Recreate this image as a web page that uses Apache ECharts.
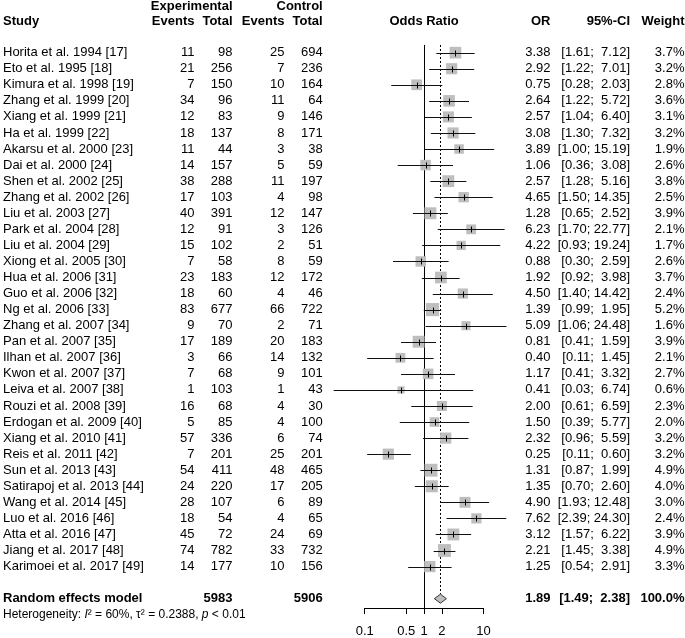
<!DOCTYPE html>
<html><head><meta charset="utf-8">
<script src="https://cdn.jsdelivr.net/npm/echarts@6/dist/echarts.min.js"></script>
<style>html,body{margin:0;padding:0;background:#fff}#c{width:685px;height:638px}</style>
</head><body><div id="c"></div><script>
const studies = ["Horita et al. 1994 [17]","Eto et al. 1995 [18]","Kimura et al. 1998 [19]","Zhang et al. 1999 [20]","Xiang et al. 1999 [21]","Ha et al. 1999 [22]","Akarsu et al. 2000 [23]","Dai et al. 2000 [24]","Shen et al. 2002 [25]","Zhang et al. 2002 [26]","Liu et al. 2003 [27]","Park et al. 2004 [28]","Liu et al. 2004 [29]","Xiong et al. 2005 [30]","Hua et al. 2006 [31]","Guo et al. 2006 [32]","Ng et al. 2006 [33]","Zhang et al. 2007 [34]","Pan et al. 2007 [35]","Ilhan et al. 2007 [36]","Kwon et al. 2007 [37]","Leiva et al. 2007 [38]","Rouzi et al. 2008 [39]","Erdogan et al. 2009 [40]","Xiang et al. 2010 [41]","Reis et al. 2011 [42]","Sun et al. 2013 [43]","Satirapoj et al. 2013 [44]","Wang et al. 2014 [45]","Luo et al. 2016 [46]","Atta et al. 2016 [47]","Jiang et al. 2017 [48]","Karimoei et al. 2017 [49]"];
const expEvents = [11,21,7,34,12,18,11,14,38,17,40,12,15,7,23,18,83,9,17,3,7,1,16,5,57,7,54,24,28,18,45,74,14];
const expTotal = [98,256,150,96,83,137,44,157,288,103,391,91,102,58,183,60,677,70,189,66,68,103,68,85,336,201,411,220,107,54,72,782,177];
const ctrlEvents = [25,7,10,11,9,8,3,5,11,4,12,3,2,8,12,4,66,2,20,14,9,1,4,4,6,25,48,17,6,4,24,33,10];
const ctrlTotal = [694,236,164,64,146,171,38,59,197,98,147,126,51,59,172,46,722,71,183,132,101,43,30,100,74,201,465,205,89,65,69,732,156];
const oddsRatio = [3.38,2.92,0.75,2.64,2.57,3.08,3.89,1.06,2.57,4.65,1.28,6.23,4.22,0.88,1.92,4.50,1.39,5.09,0.81,0.40,1.17,0.41,2.00,1.50,2.32,0.25,1.31,1.35,4.90,7.62,3.12,2.21,1.25];
const ciLower = [1.61,1.22,0.28,1.22,1.04,1.30,1.00,0.36,1.28,1.50,0.65,1.70,0.93,0.30,0.92,1.40,0.99,1.06,0.41,0.11,0.41,0.03,0.61,0.39,0.96,0.11,0.87,0.70,1.93,2.39,1.57,1.45,0.54];
const ciUpper = [7.12,7.01,2.03,5.72,6.40,7.32,15.19,3.08,5.16,14.35,2.52,22.77,19.24,2.59,3.98,14.42,1.95,24.48,1.59,1.45,3.32,6.74,6.59,5.77,5.59,0.60,1.99,2.60,12.48,24.30,6.22,3.38,2.91];
const weights = [3.7,3.2,2.8,3.6,3.1,3.2,1.9,2.6,3.8,2.5,3.9,2.1,1.7,2.6,3.7,2.4,5.2,1.6,3.9,2.1,2.7,0.6,2.3,2.0,3.2,3.2,4.9,4.0,3.0,2.4,3.9,4.9,3.3];
const pooledOR = 1.89, pooledLower = 1.49, pooledUpper = 2.38, pooledWeight = 100.0;
const pooledExpTotal = 5983, pooledCtrlTotal = 5906;
const heterogeneity = {I2: "60%", tau2: "0.2388", p: "< 0.01"};
const xTicks = [0.1, 0.5, 1, 2, 10];
const xTickLabels = ["0.1", "0.5", "1", "2", "10"];

const FONT = "'Liberation Sans', Arial, sans-serif";
const ROW_RE = 34, ROW_HET = 35;
const COL = {study:3, ee:194.5, et:232.5, ce:284.5, ct:322.7, or:550.5, ci:630, w:684.5};

function fmtCI(lo, up){
  let u = up.toFixed(2); if (u.length < 5) u = ' ' + u;
  return '[' + lo.toFixed(2) + '; ' + u + ']';
}
function txt(x, y, text, align, opt){
  opt = opt || {};
  return {type:'text', style:{text:text, x:x, y:y, align:align, verticalAlign:'middle',
    fontSize: opt.size || 13, fontFamily: FONT, fontWeight: opt.bold ? 'bold' : 'normal',
    fill:'#000', rich: opt.rich}};
}

const forestData = oddsRatio.map((v,i)=>[v, i, ciLower[i], ciUpper[i], weights[i]]);
const tableData = studies.map((s,i)=>[1, i, i]);

const chart = echarts.init(document.getElementById('c'), null, {renderer:'canvas'});
chart.setOption({
  animation:false,
  backgroundColor:'#fff',
  grid:{left:364.7, right:685-483.4, top:0, height:608},
  xAxis:{type:'log', logBase:10, min:0.1, max:10, position:'bottom',
    axisLine:{show:true, onZero:false, lineStyle:{color:'#000', width:1}},
    axisTick:{show:true, length:6, lineStyle:{color:'#000', width:1}, customValues: xTicks},
    axisLabel:{show:true, fontSize:13, fontFamily:FONT, color:'#000', margin:17, customValues: xTicks,
      formatter: function(v){ let k = xTicks.findIndex(t=>Math.abs(t-v)<1e-6); if(k<0) k = xTicks.findIndex(t=>Math.abs(t-Math.pow(10,v))<1e-6); return k>=0 ? xTickLabels[k] : String(v);} },
    splitLine:{show:false}},
  yAxis:{type:'value', inverse:true, min:-3.28, max:34.58, show:false},
  series:[
    { type:'custom', silent:true, z:1,
      data:[[1, -0.48, 34.58, 0],[pooledOR, -0.48, ROW_RE - 0.28, 1]],
      renderItem:function(params, api){
        const a = api.coord([api.value(0), api.value(1)]);
        const b = api.coord([api.value(0), api.value(2)]);
        const dotted = api.value(3) === 1;
        const x = Math.round(a[0]) + 0.5;
        return {type:'line', shape:{x1:x, y1:a[1], x2:x, y2:b[1]},
          style:{stroke:'#000', lineWidth:1, lineDash: dotted ? [2,2] : null}};
      }},
    { type:'custom', silent:true, z:2, data:forestData, encode:{x:[0,2,3], y:1},
      renderItem:function(params, api){
        const c = api.coord([api.value(0), api.value(1)]);
        const l = api.coord([api.value(2), api.value(1)]);
        const u = api.coord([api.value(3), api.value(1)]);
        const side = 4 + 4*Math.sqrt(api.value(4));
        const y = Math.round(c[1]) + 0.5;
        return {type:'group', children:[
          {type:'rect', shape:{x:c[0]-side/2, y:c[1]-side/2, width:side, height:side}, style:{fill:'#BEBEBE'}},
          {type:'line', shape:{x1:l[0], y1:y, x2:u[0], y2:y}, style:{stroke:'#111', lineWidth:1}},
          {type:'line', shape:{x1:Math.round(c[0])+0.5, y1:y-3, x2:Math.round(c[0])+0.5, y2:y+3}, style:{stroke:'#000', lineWidth:1}}
        ]};
      }},
    { type:'custom', silent:true, z:3, data:[[pooledOR, ROW_RE, pooledLower, pooledUpper]], encode:{x:[0,2,3], y:1},
      renderItem:function(params, api){
        const c = api.coord([api.value(0), api.value(1)]);
        const l = api.coord([api.value(2), api.value(1)]);
        const u = api.coord([api.value(3), api.value(1)]);
        const h = 4.5;
        return {type:'polygon', shape:{points:[[l[0],c[1]],[c[0],c[1]-h],[u[0],c[1]],[c[0],c[1]+h]]},
          style:{fill:'#BEBEBE', stroke:'#333', lineWidth:1}};
      }},
    { type:'custom', silent:true, z:4, data:tableData, encode:{x:0, y:1},
      renderItem:function(params, api){
        const i = api.value(2);
        const y = api.coord([1, api.value(1)])[1];
        return {type:'group', children:[
          txt(COL.study, y, studies[i], 'left'),
          txt(COL.ee, y, String(expEvents[i]), 'right'),
          txt(COL.et, y, String(expTotal[i]), 'right'),
          txt(COL.ce, y, String(ctrlEvents[i]), 'right'),
          txt(COL.ct, y, String(ctrlTotal[i]), 'right'),
          txt(COL.or, y, oddsRatio[i].toFixed(2), 'right'),
          txt(COL.ci, y, fmtCI(ciLower[i], ciUpper[i]), 'right'),
          txt(COL.w, y, weights[i].toFixed(1) + '%', 'right')
        ]};
      }},
    { type:'custom', silent:true, z:4, data:[[1, -2.9, 0],[1, -1.92, 1],[1, ROW_RE, 2],[1, ROW_HET, 3]], encode:{x:0, y:1},
      renderItem:function(params, api){
        const k = api.value(2);
        const y = api.coord([1, api.value(1)])[1];
        const B = {bold:true};
        let ch = [];
        if (k === 0) {
          ch = [txt(COL.et, y, 'Experimental', 'right', B), txt(COL.ct, y, 'Control', 'right', B)];
        } else if (k === 1) {
          const xc = api.coord([1, 0])[0];
          ch = [txt(COL.study, y, 'Study', 'left', B), txt(COL.ee, y, 'Events', 'right', B), txt(COL.et, y, 'Total', 'right', B),
            txt(COL.ce, y, 'Events', 'right', B), txt(COL.ct, y, 'Total', 'right', B), txt(xc, y, 'Odds Ratio', 'center', B),
            txt(COL.or, y, 'OR', 'right', B), txt(COL.ci, y, '95%-CI', 'right', B), txt(COL.w, y, 'Weight', 'right', B)];
        } else if (k === 2) {
          ch = [txt(COL.study, y, 'Random effects model', 'left', B), txt(COL.et, y, String(pooledExpTotal), 'right', B),
            txt(COL.ct, y, String(pooledCtrlTotal), 'right', B), txt(COL.or, y, pooledOR.toFixed(2), 'right', B),
            txt(COL.ci, y, fmtCI(pooledLower, pooledUpper), 'right', B), txt(COL.w, y, pooledWeight.toFixed(1) + '%', 'right', B)];
        } else {
          ch = [txt(COL.study, y, 'Heterogeneity: {i|I}\u00B2 = ' + heterogeneity.I2 + ', \u03C4\u00B2 = ' + heterogeneity.tau2 + ', {i|p} ' + heterogeneity.p, 'left',
            {size:12, rich:{i:{fontStyle:'italic', fontSize:12, fontFamily:FONT, fill:'#000'}}})];
        }
        return {type:'group', children:ch};
      }}
  ]
});
</script></body></html>
